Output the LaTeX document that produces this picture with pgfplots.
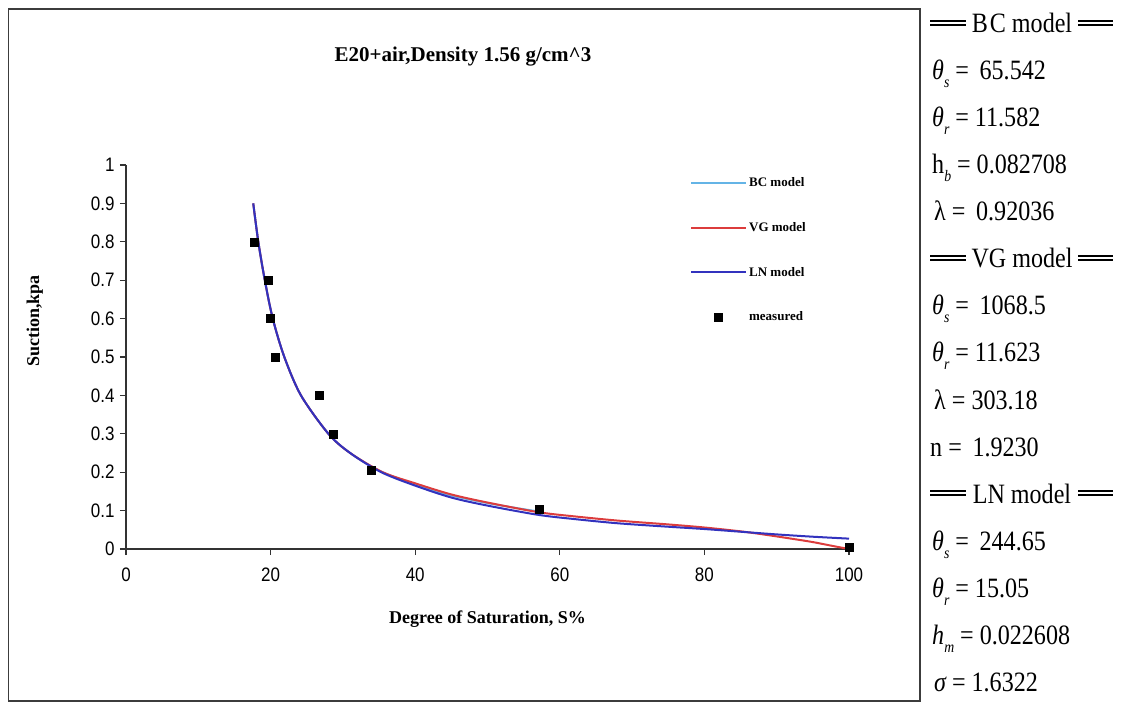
\documentclass[border=0pt]{standalone}
\usepackage{fontspec}
\setmainfont{Liberation Serif}
\newfontfamily\tickfont[FakeStretch=0.87]{Liberation Sans}
\newfontfamily\panelfont[FakeStretch=0.86]{Liberation Serif}
\usepackage{pgfplots}
\pgfplotsset{compat=1.18}
\definecolor{bccol}{RGB}{100,180,230}
\definecolor{vgcol}{RGB}{220,60,60}
\definecolor{lncol}{RGB}{50,50,190}
\definecolor{framecol}{RGB}{60,60,60}
\newcommand\sub[1]{\raisebox{-8pt}{\fontsize{16}{16}\selectfont\itshape #1}}
\begin{document}
\begin{tikzpicture}[x=1pt,y=1pt]
\path[use as bounding box] (0,0) rectangle (1123,702);
\draw[framecol, line width=1.8pt] (8.5,1) rectangle (920,693);
\begin{axis}[
 at={(126pt,153pt)}, anchor=south west, scale only axis, width=723pt, height=384pt,
 xmin=0,xmax=100,ymin=0,ymax=1,
 axis x line*=bottom, axis y line*=left,
 axis line style={line width=1.3pt, black!80},
 xtick={0,20,40,60,80,100}, ytick={0,0.1,0.2,0.3,0.4,0.5,0.6,0.7,0.8,0.9,1},
 tick align=outside, major tick length=6pt, tick style={line width=1.1pt, black!80},
 tick label style={font=\fontsize{19.5}{19.5}\tickfont},
 /pgf/number format/assume math mode=true,
 yticklabel style={/pgf/number format/fixed, xshift=-2pt},
 xticklabel style={yshift=-9pt},
 xlabel={Degree of Saturation, S\%},
 xlabel style={at={(axis description cs:0.5,0)}, anchor=north, yshift=-58pt, font=\fontsize{18}{18}\selectfont\bfseries},
 ylabel={Suction,kpa},
 ylabel style={at={(axis description cs:-0.126,0.594)}, anchor=center, font=\fontsize{18}{18}\selectfont\bfseries},
 legend style={draw=none, fill=none, at={(0.78,0.972)}, anchor=north west, inner sep=0pt, row sep=30pt, font=\fontsize{13}{13}\selectfont\bfseries},
 legend cell align=left,
 legend image code/.code={\draw[mark repeat=2,mark phase=2,#1] plot coordinates {(0pt,0pt) (27pt,0pt) (55pt,0pt)};},
]
\addplot[bccol, line width=2pt, smooth] coordinates {
(17.6,0.90) (18.3,0.80) (19.2,0.70) (20.3,0.60) (21.9,0.50) (24.2,0.40) (28.0,0.30) (31.0,0.25) (35.5,0.20) (42.8,0.15) (49.9,0.12) (56.9,0.098)};
\addlegendentry{BC model}
\addplot[vgcol, line width=2pt, smooth] coordinates {
(17.6,0.90) (18.3,0.80) (19.2,0.70) (20.3,0.60) (21.9,0.50) (24.2,0.40) (28.0,0.30) (31.0,0.25) (35.5,0.20) (40.0,0.171) (45.0,0.142) (50.0,0.121) (57.0,0.096) (62.0,0.085) (68.0,0.074) (75.0,0.064) (80.0,0.056) (85.0,0.046) (88.5,0.037) (92.0,0.027) (95.0,0.018) (98.0,0.007) (100,0.0)};
\addlegendentry{VG model}
\addplot[lncol, line width=2pt, smooth] coordinates {
(17.6,0.90) (18.3,0.80) (19.2,0.70) (20.3,0.60) (21.9,0.50) (24.2,0.40) (28.0,0.30) (31.0,0.25) (35.3,0.20) (40.0,0.165) (45.0,0.134) (50.0,0.113) (57.0,0.089) (62.0,0.078) (68.0,0.067) (75.0,0.058) (80.0,0.052) (85.0,0.045) (90.0,0.038) (95.0,0.032) (100,0.027)};
\addlegendentry{LN model}
\addplot[only marks, mark=square*, mark size=4pt, black] coordinates {
(17.7,0.80) (19.6,0.70) (19.9,0.60) (20.6,0.50) (26.7,0.40) (28.6,0.30) (33.9,0.205) (57.1,0.103) (100,0.005)};
\addlegendentry{measured}
\end{axis}
\node[font=\fontsize{21}{21}\selectfont\bfseries] at (463,645) {E20+air,Density 1.56 g/cm\^{}3};
\begin{scope}[every node/.style={anchor=base west, inner sep=0pt, font=\fontsize{28}{28}\panelfont}]
\foreach \yy/\tt in {33/{B\kern2pt C model}, 268/{VG model}, 503/{LN model}} {
  \node[anchor=base] at (1022,702-\yy) {\tt};
  \draw[line width=1.1pt] (930,702-\yy+8) -- (966,702-\yy+8) (930,702-\yy+12) -- (966,702-\yy+12);
  \draw[line width=1.1pt] (1078,702-\yy+8) -- (1113,702-\yy+8) (1078,702-\yy+12) -- (1113,702-\yy+12);
}
\node at (932,702-80) {{\itshape θ}\sub{s} = \,65.542};
\node at (932,702-127) {{\itshape θ}\sub{r} = 11.582};
\node at (932,702-174) {h\sub{b} = 0.082708};
\node at (934,702-221) {λ = \,0.92036};
\node at (932,702-315) {{\itshape θ}\sub{s} = \,1068.5};
\node at (932,702-362) {{\itshape θ}\sub{r} = 11.623};
\node at (934,702-409) {λ = 303.18};
\node at (930,702-456) {n = \,1.9230};
\node at (932,702-550) {{\itshape θ}\sub{s} = \,244.65};
\node at (932,702-597) {{\itshape θ}\sub{r} = 15.05};
\node at (932,702-644) {{\itshape h}\sub{m} = 0.022608};
\node at (934,702-691) {{\itshape σ} = 1.6322};
\end{scope}
\end{tikzpicture}
\end{document}
